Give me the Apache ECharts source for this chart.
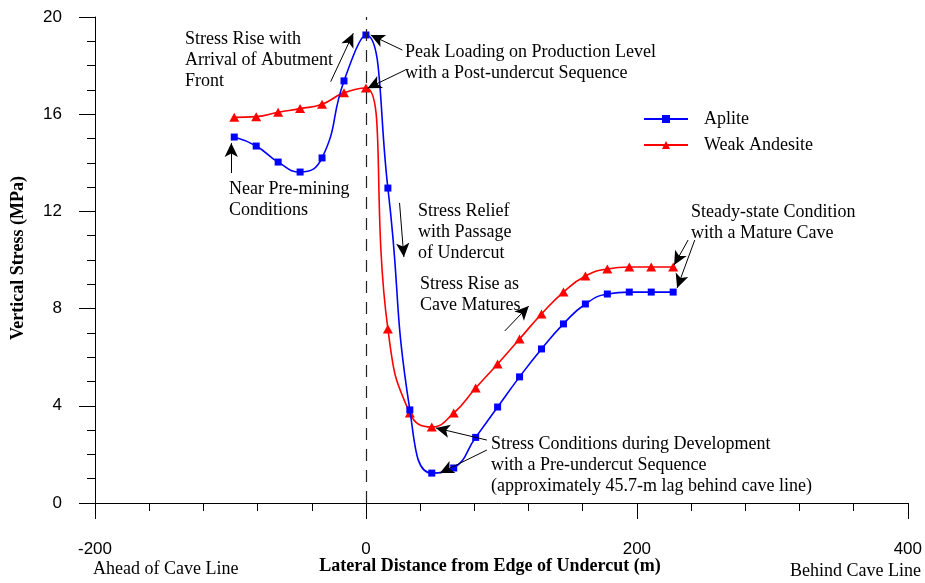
<!DOCTYPE html>
<html>
<head>
<meta charset="utf-8">
<script src="https://cdn.jsdelivr.net/npm/echarts@6/dist/echarts.min.js"></script>
<style>
  html, body { margin: 0; padding: 0; background: #fff; }
  #chart { width: 925px; height: 583px; }
</style>
</head>
<body>
<div id="chart"></div>
<script>
// Lateral distance from the undercut edge (m)
const distance = [-97.2, -81, -64.8, -48.6, -32.4, -16.2, 0, 16.2, 32.4, 48.6, 64.8,
                  81, 97.2, 113.4, 129.6, 145.8, 162, 178.2, 194.4, 210.6, 226.8];
// Vertical stress (MPa)
const aplite = [15.06, 14.69, 14.03, 13.62, 14.20, 17.37, 19.26, 12.96, 3.83, 1.23, 1.44,
                2.70, 3.95, 5.19, 6.34, 7.37, 8.19, 8.60, 8.68, 8.68, 8.68];
const weakAndesite = [15.87, 15.90, 16.08, 16.23, 16.41, 16.88, 17.08, 7.16, 3.70, 3.13, 3.70,
                      4.73, 5.72, 6.75, 7.78, 8.68, 9.34, 9.63, 9.71, 9.71, 9.71];
const seriesNames = ['Aplite', 'Weak Andesite'];

// Annotation arrows, [from, to] in data units
const arrows = [
  [[-26.0, 17.34], [-9.35, 19.33]],
  [[26.9, 18.64], [3.5, 19.26]],
  [[29.1, 17.82], [1.2, 17.07]],
  [[-99.4, 13.58], [-99.4, 14.81]],
  [[24.8, 12.35], [28.0, 10.12]],
  [[102.5, 7.08], [120.2, 8.11]],
  [[89.3, 2.59], [51.6, 3.09]],
  [[89.3, 2.18], [54.6, 1.23]],
  [[237.8, 10.82], [227.5, 9.79]],
  [[242.7, 10.82], [229.7, 8.85]]
];

const serif = '"Liberation Serif", "Times New Roman", serif';
const sans = '"Liberation Sans", Arial, sans-serif';

function pairs(xs, ys) { return xs.map((x, i) => [x, ys[i]]); }

function note(x, y, lines) {
  return lines.map((t, i) => ({
    type: 'text', left: x, top: y + i * 21 - 10,
    style: { text: t, font: '18px ' + serif, fill: '#000' }
  }));
}

const chart = echarts.init(document.getElementById('chart'));
chart.setOption({
  animation: false,
  backgroundColor: '#fff',
  grid: { left: 95, right: 15, top: 17, bottom: 80, containLabel: false },
  legend: {
    data: seriesNames,
    orient: 'vertical',
    left: 638, top: 105,
    itemWidth: 44, itemHeight: 10, itemGap: 8,
    textStyle: { fontFamily: serif, fontSize: 18, color: '#000', padding: [0, 0, 0, 11] }
  },
  xAxis: {
    type: 'value', min: -200, max: 400, interval: 200,
    axisLine: { onZero: false, lineStyle: { color: '#000', width: 1 } },
    axisTick: { length: 16, lineStyle: { color: '#000' } },
    minorTick: { show: true, splitNumber: 5, length: 8, lineStyle: { color: '#000' } },
    splitLine: { show: false },
    axisLabel: { margin: 38, fontFamily: sans, fontSize: 17, color: '#000' }
  },
  yAxis: {
    type: 'value', min: 0, max: 20, interval: 4,
    axisLine: { show: true, onZero: false, lineStyle: { color: '#000', width: 1 } },
    axisTick: { show: true, length: 16, lineStyle: { color: '#000' } },
    minorTick: { show: true, splitNumber: 4, length: 8, lineStyle: { color: '#000' } },
    splitLine: { show: false },
    axisLabel: { margin: 33, fontFamily: sans, fontSize: 17, color: '#000' }
  },
  series: [
    {
      name: 'Aplite', type: 'line', smooth: 0.5,
      data: pairs(distance, aplite),
      symbol: 'rect', symbolSize: 7,
      lineStyle: { color: '#0000ff', width: 1.6 },
      itemStyle: { color: '#0000ff' },
      z: 3
    },
    {
      name: 'Weak Andesite', type: 'line', smooth: 0.5,
      data: pairs(distance, weakAndesite),
      symbol: 'triangle', symbolSize: [10, 9],
      lineStyle: { color: '#ff0000', width: 1.6 },
      itemStyle: { color: '#ff0000' },
      z: 2
    },
    {
      // cave line at zero distance
      name: 'caveLine', type: 'line', data: [], silent: true,
      markLine: {
        silent: true, animation: false,
        symbol: ['none', 'none'],
        label: { show: false },
        lineStyle: { color: '#222', width: 1.2, type: [12, 9] },
        data: [[{ coord: [0, 0] }, { coord: [0, 20] }]]
      }
    },
    {
      // annotation arrows
      name: 'arrows', type: 'line', data: [], silent: true,
      markLine: {
        silent: true, animation: false,
        symbol: ['none', 'arrow'], symbolSize: [10, 14],
        label: { show: false },
        lineStyle: { color: '#000', width: 1, type: 'solid' },
        data: arrows.map(a => [{ coord: a[0] }, { coord: a[1] }])
      }
    }
  ],
  graphic: [].concat(
    note(185, 40, ['Stress Rise with', 'Arrival of Abutment', 'Front']),
    note(405, 53, ['Peak Loading on Production Level', 'with a Post-undercut Sequence']),
    note(229, 190, ['Near Pre-mining', 'Conditions']),
    note(418, 212, ['Stress Relief', 'with Passage', 'of Undercut']),
    note(420, 285, ['Stress Rise as', 'Cave Matures']),
    note(491, 445, ['Stress Conditions during Development', 'with a Pre-undercut Sequence',
                    '(approximately 45.7-m lag behind cave line)']),
    note(691, 213, ['Steady-state Condition', 'with a Mature Cave']),
    [
      { type: 'text', left: 93, top: 560,
        style: { text: 'Ahead of Cave Line', font: '18px ' + serif, fill: '#000' } },
      { type: 'text', right: 4, top: 562,
        style: { text: 'Behind Cave Line', font: '18px ' + serif, fill: '#000' } },
      { type: 'text', x: 490, y: 566,
        style: { text: 'Lateral Distance from Edge of Undercut (m)', font: 'bold 18px ' + serif,
                 fill: '#000', align: 'center', verticalAlign: 'middle' } },
      { type: 'text', x: 18, y: 258, rotation: Math.PI / 2,
        style: { text: 'Vertical Stress (MPa)', font: 'bold 18px ' + serif,
                 fill: '#000', align: 'center', verticalAlign: 'middle' } }
    ]
  )
});
</script>
</body>
</html>
